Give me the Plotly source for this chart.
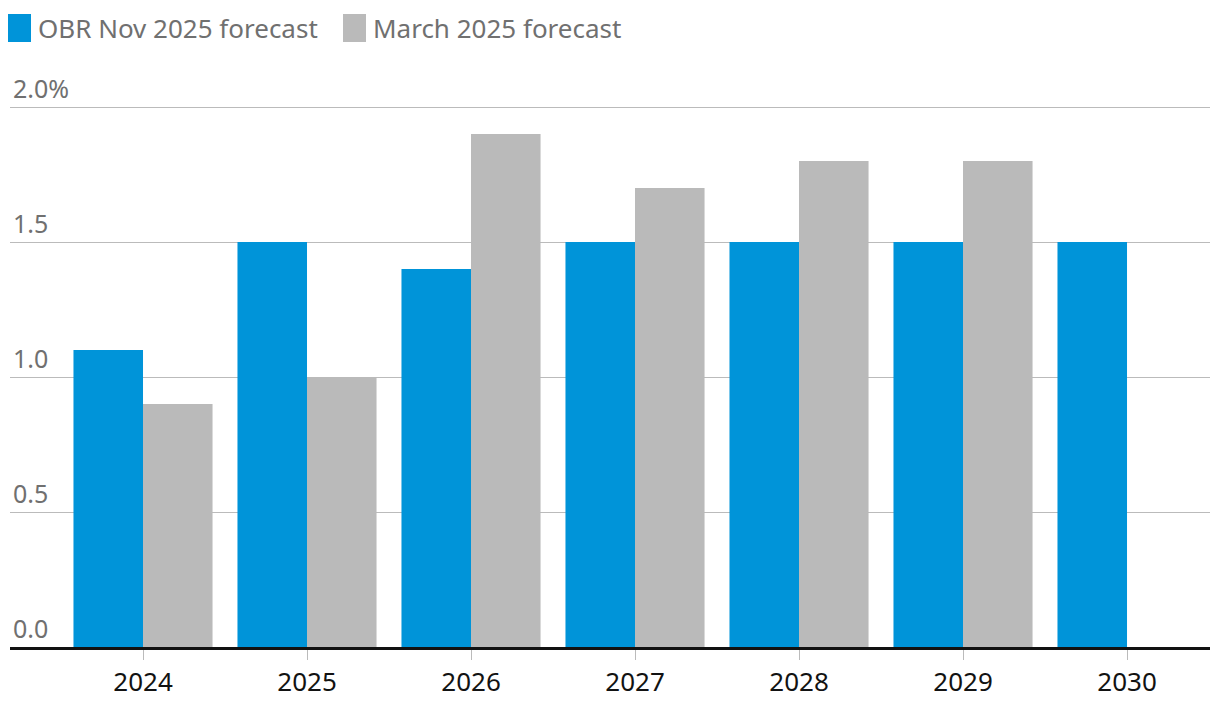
import plotly.graph_objects as go

years = ["2024", "2025", "2026", "2027", "2028", "2029", "2030"]
obr_nov = [1.1, 1.5, 1.4, 1.5, 1.5, 1.5, 1.5]
march = [0.9, 1.0, 1.9, 1.7, 1.8, 1.8, None]
series_names = ["OBR Nov 2025 forecast", "March 2025 forecast"]
colors = ["#0094d9", "#bababa"]
y_ticks = [0, 0.5, 1.0, 1.5, 2.0]
y_labels = ["0.0", "0.5", "1.0", "1.5", "2.0%"]

FONT = "Noto Sans"

# page body has an 8px margin; figure sized so the page fits the 1220x708 window
W, H = 1204, 692
PLOT_H = 594  # plot-area height in px

fig = go.Figure()
fig.add_trace(go.Bar(x=years, y=obr_nov, name=series_names[0], marker_color=colors[0],
                     marker_line_width=0))
fig.add_trace(go.Bar(x=years, y=march, name=series_names[1], marker_color=colors[1],
                     marker_line_width=0))

fig.update_layout(
    width=W, height=H,
    margin=dict(l=2, r=2, t=45, b=53, autoexpand=False),
    paper_bgcolor="white", plot_bgcolor="white",
    barmode="group", bargap=0.152, bargroupgap=0,
    showlegend=False,
    font=dict(family=FONT),
)
fig.update_xaxes(
    type="category", range=[-0.811, 6.506], automargin=False,
    showline=True, linecolor="#121212", linewidth=3,
    ticks="outside", ticklen=10, tickcolor="#bbbbbb", tickwidth=1,
    tickfont=dict(size=26, color="#121212", family=FONT),
    showgrid=False,
)
fig.update_yaxes(
    range=[0, 2.2], tickvals=y_ticks, ticktext=y_labels, automargin=False,
    ticklabelposition="inside top",
    tickfont=dict(size=25, color="#707070", family=FONT),
    showgrid=True, gridcolor="#bbbbbb", gridwidth=1,
    zeroline=False, showline=False, ticks="",
)

# legend drawn as swatches + labels (positions in screen px converted to paper fractions)
legend_x = [8, 343]
for i, (nm, c) in enumerate(zip(series_names, colors)):
    x0 = legend_x[i]
    fig.add_shape(type="rect", xref="paper", yref="paper",
                  x0=(x0 - 10) / 1200, x1=(x0 + 23 - 10) / 1200,
                  y0=(647 - 42) / PLOT_H, y1=(647 - 14) / PLOT_H,
                  fillcolor=c, line_width=0)
    fig.add_annotation(text=nm, xref="paper", yref="paper",
                       x=(x0 + 28 - 10) / 1200, y=(647 - 28) / PLOT_H,
                       xanchor="left", yanchor="middle", showarrow=False,
                       font=dict(size=26, color="#707070", family=FONT))

fig.write_html("out.html")
